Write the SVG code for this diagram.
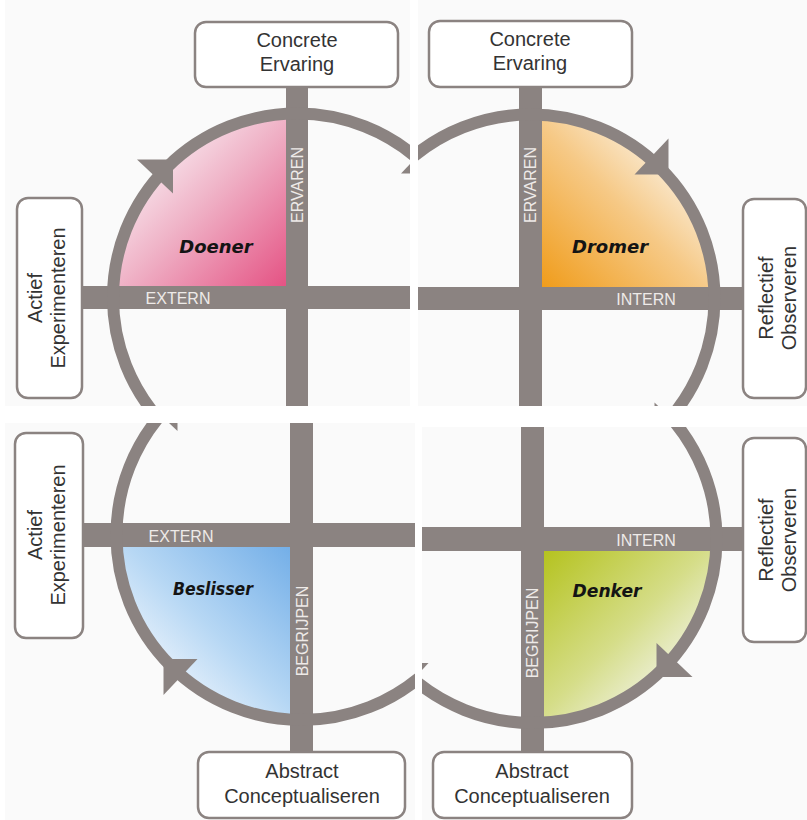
<svg xmlns="http://www.w3.org/2000/svg" xmlns:xlink="http://www.w3.org/1999/xlink" width="807" height="820" viewBox="0 0 807 820">
<style>
.bg{fill:#fafafa}
.bar{fill:#8b8381}
.ring{fill:none;stroke:#8b8381;stroke-width:12}
.arr{fill:#8b8381}
.box{fill:#ffffff;stroke:#8b8381;stroke-width:2.5}
.bt{font-family:"Liberation Sans",Arial,sans-serif;font-size:20px;fill:#333333;text-anchor:middle}
.lab{font-family:"Liberation Sans",Arial,sans-serif;font-size:16px;fill:#eeeae8;text-anchor:middle}
.q{font-family:"DejaVu Sans",sans-serif;font-size:18px;font-weight:bold;font-style:italic;fill:#141414;text-anchor:middle}
</style>
<defs>
<clipPath id="c1"><rect x="5" y="0" width="405" height="406"/></clipPath>
<clipPath id="c2"><rect x="418" y="0" width="389" height="406"/></clipPath>
<clipPath id="c3"><rect x="5" y="423" width="410" height="397"/></clipPath>
<clipPath id="c4"><rect x="422" y="427" width="385" height="393"/></clipPath>
<polygon id="ah" points="-124,-138 -160,-138 -124,-104"/>
<linearGradient id="gPink" x1="1" y1="1" x2="0" y2="0">
<stop offset="0" stop-color="#e3467b"/><stop offset="0.5" stop-color="#efb0c5"/><stop offset="0.75" stop-color="#f7e1e9"/><stop offset="1" stop-color="#fbf0f4"/>
</linearGradient>
<linearGradient id="gOrange" x1="0" y1="1" x2="1" y2="0">
<stop offset="0" stop-color="#ef960c"/><stop offset="0.5" stop-color="#f6c986"/><stop offset="0.75" stop-color="#faebd4"/><stop offset="1" stop-color="#fcf4ea"/>
</linearGradient>
<linearGradient id="gBlue" x1="1" y1="0" x2="0" y2="1">
<stop offset="0" stop-color="#6aa9e6"/><stop offset="0.5" stop-color="#b6d7f4"/><stop offset="0.75" stop-color="#e5f0fb"/><stop offset="1" stop-color="#f3f8fd"/>
</linearGradient>
<linearGradient id="gGreen" x1="0" y1="0" x2="1" y2="1">
<stop offset="0" stop-color="#b0bf10"/><stop offset="0.5" stop-color="#d5dd88"/><stop offset="0.75" stop-color="#eef0da"/><stop offset="1" stop-color="#f6f7ee"/>
</linearGradient>
</defs>
<rect x="0" y="0" width="807" height="820" fill="#ffffff"/>

<!-- Panel 1: Doener -->
<g id="panel-doener" clip-path="url(#c1)">
<rect class="bg" x="5" y="0" width="405" height="406"/>
<path id="q-doener" d="M297,297.5 L297,113 A184,184 0 0 0 113,297.5 Z" fill="url(#gPink)"/>
<g id="axes-1">
<rect class="bar" x="286" y="86" width="22" height="330"/>
<rect class="bar" x="82" y="286" width="340" height="23"/>
<circle class="ring" cx="297" cy="297.5" r="184"/>
<use href="#ah" class="arr" transform="translate(297,297.5)"/>
<use href="#ah" class="arr" transform="translate(297,297.5) rotate(90)"/>
<use href="#ah" class="arr" transform="translate(297,297.5) rotate(180)"/>
<use href="#ah" class="arr" transform="translate(297,297.5) rotate(270)"/>
</g>
<text class="lab" transform="translate(303,185) rotate(-90)">ERVAREN</text>
<text class="lab" x="178" y="304">EXTERN</text>
<text class="q" x="216" y="253">Doener</text>
<g id="box-ce-1"><rect class="box" x="195" y="22" width="203" height="65" rx="11"/>
<text class="bt" x="297" y="47">Concrete</text><text class="bt" x="297" y="71">Ervaring</text></g>
<g id="box-ae-1"><rect class="box" x="17" y="198" width="65" height="200" rx="11"/>
<text class="bt" transform="translate(42,298) rotate(-90)">Actief</text>
<text class="bt" transform="translate(65,298) rotate(-90)">Experimenteren</text></g>
</g>

<!-- Panel 2: Dromer -->
<g id="panel-dromer" clip-path="url(#c2)">
<rect class="bg" x="418" y="0" width="389" height="406"/>
<path id="q-dromer" d="M530.5,298.5 L530.5,114.5 A184,184 0 0 1 714.5,298.5 Z" fill="url(#gOrange)"/>
<g id="axes-2">
<rect class="bar" x="519" y="86" width="23" height="330"/>
<rect class="bar" x="410" y="287" width="333" height="23"/>
<circle class="ring" cx="530.5" cy="298.5" r="184"/>
<use href="#ah" class="arr" transform="translate(530.5,298.5)"/>
<use href="#ah" class="arr" transform="translate(530.5,298.5) rotate(90)"/>
<use href="#ah" class="arr" transform="translate(530.5,298.5) rotate(180)"/>
<use href="#ah" class="arr" transform="translate(530.5,298.5) rotate(270)"/>
</g>
<text class="lab" transform="translate(536,185) rotate(-90)">ERVAREN</text>
<text class="lab" x="646" y="305">INTERN</text>
<text class="q" x="610" y="253">Dromer</text>
<g id="box-ce-2"><rect class="box" x="429" y="21" width="203" height="66" rx="11"/>
<text class="bt" x="530" y="46">Concrete</text><text class="bt" x="530" y="70">Ervaring</text></g>
<g id="box-ro-2"><rect class="box" x="743" y="199" width="63" height="199" rx="11"/>
<text class="bt" transform="translate(773,298) rotate(-90)">Reflectief</text>
<text class="bt" transform="translate(796,298) rotate(-90)">Observeren</text></g>
</g>

<!-- Panel 3: Beslisser -->
<g id="panel-beslisser" clip-path="url(#c3)">
<rect class="bg" x="5" y="423" width="410" height="397"/>
<path id="q-beslisser" d="M301.5,535 L117.5,535 A184,184 0 0 0 301.5,719 Z" fill="url(#gBlue)"/>
<g id="axes-3">
<rect class="bar" x="290" y="410" width="23" height="342"/>
<rect class="bar" x="83" y="523" width="340" height="24"/>
<circle class="ring" cx="301.5" cy="535" r="185"/>
<use href="#ah" class="arr" transform="translate(301.5,535)"/>
<use href="#ah" class="arr" transform="translate(301.5,535) rotate(90)"/>
<use href="#ah" class="arr" transform="translate(301.5,535) rotate(180)"/>
<use href="#ah" class="arr" transform="translate(301.5,535) rotate(270)"/>
</g>
<text class="lab" x="181" y="542">EXTERN</text>
<text class="lab" transform="translate(308,631) rotate(-90)">BEGRIJPEN</text>
<text class="q" x="213" y="595" textLength="80" lengthAdjust="spacingAndGlyphs">Beslisser</text>
<g id="box-ae-3"><rect class="box" x="15" y="433" width="68" height="205" rx="11"/>
<text class="bt" transform="translate(42,535) rotate(-90)">Actief</text>
<text class="bt" transform="translate(65,535) rotate(-90)">Experimenteren</text></g>
<g id="box-ac-3"><rect class="box" x="198" y="752" width="207" height="66" rx="11"/>
<text class="bt" x="302" y="778">Abstract</text><text class="bt" x="302" y="803">Conceptualiseren</text></g>
</g>

<!-- Panel 4: Denker -->
<g id="panel-denker" clip-path="url(#c4)">
<rect class="bg" x="422" y="427" width="385" height="393"/>
<path id="q-denker" d="M532.5,539 L716.5,539 A184,184 0 0 1 532.5,723 Z" fill="url(#gGreen)"/>
<g id="axes-4">
<rect class="bar" x="521" y="410" width="23" height="342"/>
<rect class="bar" x="410" y="527" width="333" height="24"/>
<circle class="ring" cx="532.5" cy="539" r="184"/>
<use href="#ah" class="arr" transform="translate(532.5,539)"/>
<use href="#ah" class="arr" transform="translate(532.5,539) rotate(90)"/>
<use href="#ah" class="arr" transform="translate(532.5,539) rotate(180)"/>
<use href="#ah" class="arr" transform="translate(532.5,539) rotate(270)"/>
</g>
<text class="lab" x="646" y="546">INTERN</text>
<text class="lab" transform="translate(538,633) rotate(-90)">BEGRIJPEN</text>
<text class="q" x="607" y="597" textLength="69" lengthAdjust="spacingAndGlyphs">Denker</text>
<g id="box-ro-4"><rect class="box" x="743" y="438" width="63" height="204" rx="11"/>
<text class="bt" transform="translate(773,540) rotate(-90)">Reflectief</text>
<text class="bt" transform="translate(796,540) rotate(-90)">Observeren</text></g>
<g id="box-ac-4"><rect class="box" x="433" y="752" width="199" height="66" rx="11"/>
<text class="bt" x="532" y="778">Abstract</text><text class="bt" x="532" y="803">Conceptualiseren</text></g>
</g>
</svg>
